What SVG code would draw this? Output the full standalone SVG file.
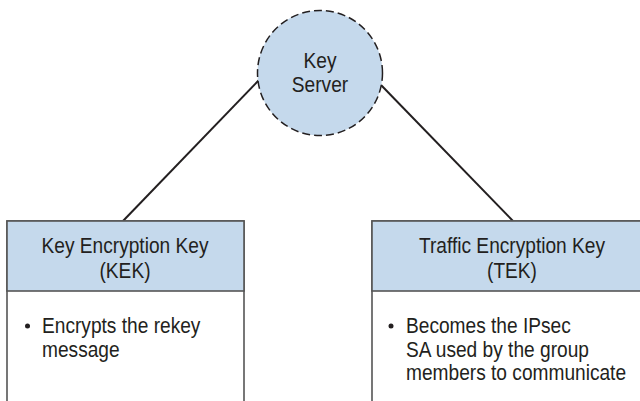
<svg xmlns="http://www.w3.org/2000/svg" width="640" height="401" viewBox="0 0 640 401">
<style>
.t{font-family:"Liberation Sans",Arial,sans-serif;font-size:22px;fill:#231f20}
.c{text-anchor:middle}
.box{stroke:#555;stroke-width:1.6}
.hdr{fill:#c5d9ec}
.body{fill:#fff}
.conn{stroke:#231f20;stroke-width:2;fill:none}
</style>
<rect width="640" height="401" fill="#fff"/>
<g id="connectors">
<line class="conn" x1="259" y1="80" x2="123" y2="221"/>
<line class="conn" x1="381" y1="85" x2="513" y2="221"/>
</g>
<g id="key-server">
<circle cx="320" cy="73" r="62.5" fill="#c5d9ec" stroke="#231f20" stroke-width="1.5" stroke-dasharray="8,4"/>
<text class="t c" transform="translate(320,68) scale(0.87,1)">Key</text>
<text class="t c" transform="translate(320,92) scale(0.87,1)">Server</text>
</g>
<g id="kek">
<rect class="box body" x="7" y="221" width="237" height="200"/>
<rect class="box hdr" x="7" y="221" width="237" height="70"/>
<text class="t c" transform="translate(125,253) scale(0.87,1)">Key Encryption Key</text>
<text class="t c" transform="translate(125,278) scale(0.87,1)">(KEK)</text>
<circle cx="27.5" cy="326" r="2.5" fill="#231f20"/>
<text class="t" transform="translate(42,333) scale(0.87,1)">Encrypts the rekey</text>
<text class="t" transform="translate(42,357) scale(0.87,1)">message</text>
</g>
<g id="tek">
<rect class="box body" x="372" y="221" width="280" height="200"/>
<rect class="box hdr" x="372" y="221" width="280" height="70"/>
<text class="t c" transform="translate(512,253) scale(0.87,1)">Traffic Encryption Key</text>
<text class="t c" transform="translate(512,278) scale(0.87,1)">(TEK)</text>
<circle cx="391" cy="326" r="2.5" fill="#231f20"/>
<text class="t" transform="translate(406,333) scale(0.87,1)">Becomes the IPsec</text>
<text class="t" transform="translate(406,357) scale(0.87,1)">SA used by the group</text>
<text class="t" transform="translate(406,380) scale(0.87,1)">members to communicate</text>
</g>
</svg>
